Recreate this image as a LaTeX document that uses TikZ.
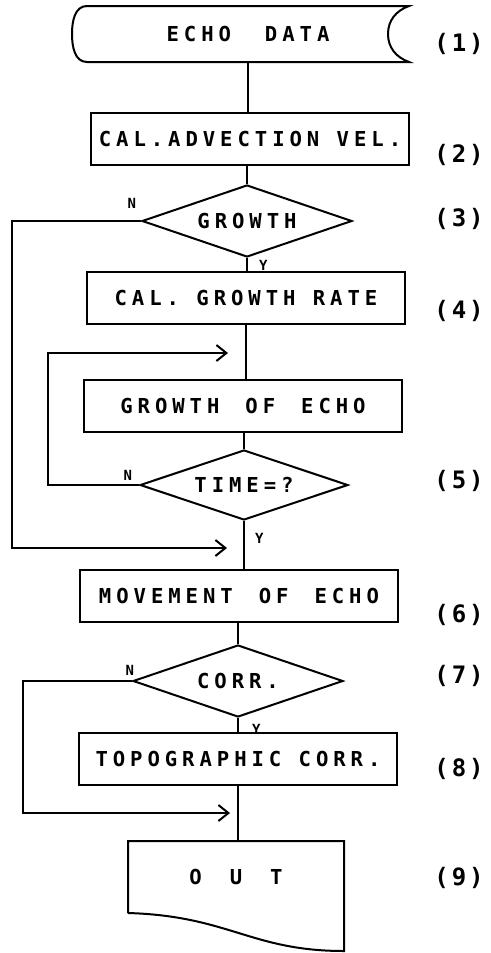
\documentclass[tikz,border=0pt]{standalone}
\usepackage{fontspec}
\newfontfamily\plotfont[LetterSpace=24]{DejaVu Sans Mono}
\newfontfamily\stepfont[LetterSpace=12]{DejaVu Sans Mono}
\newcommand{\widegap}{\hspace{26pt}}
\usepackage{tikz}
\usetikzlibrary{arrows.meta,shapes,positioning,calc}
\tikzset{
  every picture/.style = {
    line width = 2pt,
    >={Straight Barb[length=10pt,width=16pt]},
    x = 1pt,
    y = -1pt
  }
  ,
  proc-box/.style = {
    rectangle,
    draw,
    font = \plotfont\bfseries\fontsize{20.6}{24}\selectfont,
    minimum width = 318pt,
    minimum height = 52pt,
    inner sep = 0pt
  }
  , % io shapes, outline drawn by hand
  io-box/.style = {
    rectangle,
    font = \plotfont\bfseries\fontsize{20.6}{24}\selectfont,
    inner sep = 0pt
  }
  , % decisions
  decision/.style = {
    diamond,
    draw,
    aspect = 3,
    font = \plotfont\bfseries\fontsize{20.6}{24}\selectfont,
    minimum width = 210pt,
    minimum height = 72pt,
    inner sep = 0pt
  }
  , % step numbers
  label-step/.style = {
    font = \stepfont\bfseries\fontsize{24}{28}\selectfont
  }
  , % labels of branches
  label-yn/.style = {
    font = \stepfont\bfseries\fontsize{14}{16}\selectfont,
    inner sep = 0pt
  }
}
\begin{document}
\begin{tikzpicture}
  \useasboundingbox (0,0) rectangle (490,953);
  \node[io-box, minimum width = 320pt, minimum height = 54pt] at (248,34) (echo) {ECHO\hspace{34pt}DATA};
  \draw (echo.north west) -- (echo.north east)
    to[out=200,in=90] ([xshift=-21pt]echo.east)
    to[out=-90,in=160] (echo.south east) -- (echo.south west)
    to[out=180,in=-90] ([xshift=-15pt]echo.west)
    to[out=90,in=180] (echo.north west);
  \node[proc-box] at (250,139) (adv) {CAL.ADVECTION VEL.};
  \node[decision] at (247,221) (growth) {GROWTH};
  \node[proc-box] at (246,298) (rate) {CAL. GROWTH RATE};
  \node[proc-box] at (243,406) (grow) {GROWTH\widegap OF\widegap ECHO};
  \node[decision, minimum width = 208pt, minimum height = 70pt] at (244,485) (time) {TIME=?};
  \node[proc-box] at (239,596) (move) {MOVEMENT\widegap OF\widegap ECHO};
  \node[decision] at (238,681) (corr) {CORR.};
  \node[proc-box] at (238,759) (topo) {TOPOGRAPHIC CORR.};
  \node[io-box, minimum width = 214pt, minimum height = 70pt] at (236,877) (out) {O\hspace{28pt}U\hspace{28pt}T};
  \draw (out.south west) -- (out.north west) -- (out.north east)
    -- ([yshift=-38pt]out.south east)
    .. controls ([xshift=-93pt,yshift=-38pt]out.south east) and ([xshift=101pt,yshift=-3pt]out.south west) .. (out.south west);
  % main line
  \draw (echo.south) -- (echo.south |- adv.north);
  \draw (growth.north) -- (growth.north |- adv.south);
  \draw (growth.south) -- (growth.south |- rate.north);
  \draw (rate.south) -- (rate.south |- grow.north);
  \draw (time.north) -- (time.north |- grow.south);
  \draw (time.south) -- (time.south |- move.north);
  \draw (corr.north) -- (corr.north |- move.south);
  \draw (corr.south) -- (corr.south |- topo.north);
  \draw (topo.south) -- (topo.south |- out.north);
  % loops and bypasses
  \coordinate (n-time) at (48,353);
  \coordinate (in-grow) at (228,353);
  \draw[->] (time.west) -| (n-time) -- (in-grow);
  \coordinate (n-growth) at (12,548);
  \coordinate (in-move) at (227,548);
  \draw[->] (growth.west) -| (n-growth) -- (in-move);
  \coordinate (n-corr) at (23,813);
  \coordinate (in-out) at (230,813);
  \draw[->] (corr.west) -| (n-corr) -- (in-out);
  % branch labels
  \node[label-yn, above left = 12pt and 4pt of growth.west] (growth-n) {N};
  \node[label-yn, below right = 1pt and 11pt of growth.south] (growth-y) {Y};
  \node[label-yn, above left = 4pt and 6pt of time.west] (time-n) {N};
  \node[label-yn, below right = 11pt and 10pt of time.south] (time-y) {Y};
  \node[label-yn, above left = 5pt and -3pt of corr.west] (corr-n) {N};
  \node[label-yn, below right = 5pt and 13pt of corr.south] (corr-y) {Y};
  % step numbers
  \foreach \n/\y in {1/44, 2/155, 3/219, 4/311, 5/481, 6/615, 7/676, 8/769, 9/878}
    \node[label-step] (step-\n) at (459,\y) {(\n)};
\end{tikzpicture}
\end{document}
